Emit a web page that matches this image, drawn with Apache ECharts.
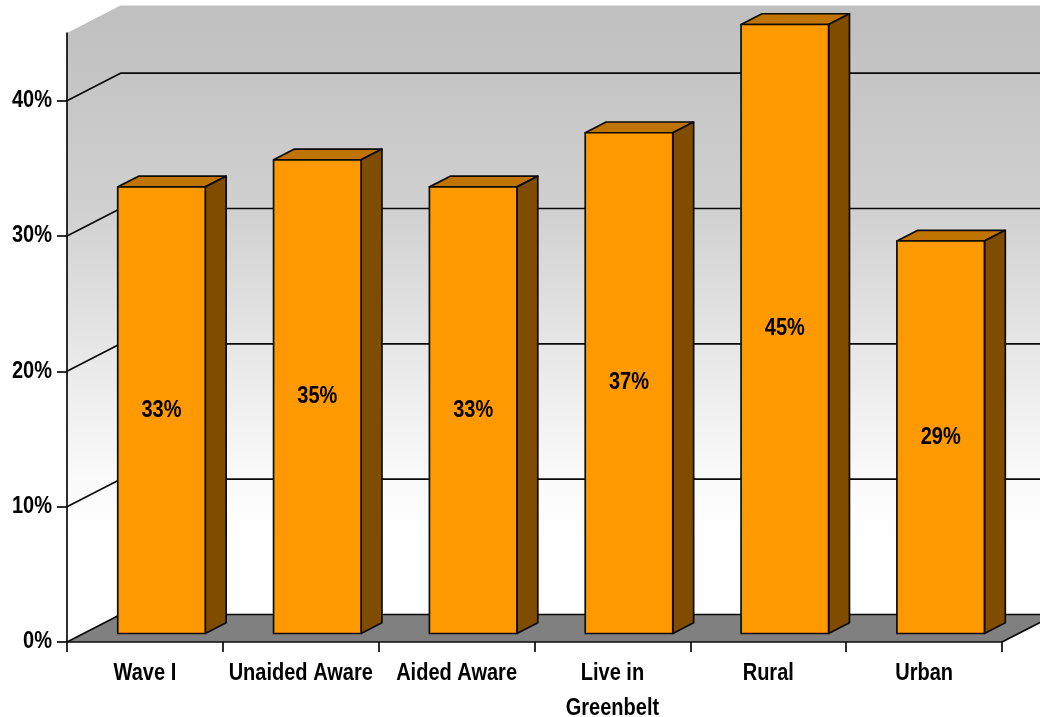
<!DOCTYPE html>
<html>
<head>
<meta charset="utf-8">
<style>html,body{margin:0;padding:0;background:#fff}#chart{width:1040px;height:717px}</style>
<script src="https://cdn.jsdelivr.net/npm/echarts@6/dist/echarts.min.js"></script>
</head>
<body>
<div id="chart"></div>
<script>
// Share of respondents by group
const categories = ['Wave I', 'Unaided Aware', 'Aided Aware', 'Live in\nGreenbelt', 'Rural', 'Urban'];
const shares = [33, 35, 33, 37, 45, 29];
const gridValues = [10, 20, 30, 40];
const axisTicks = [0, 10, 20, 30, 40];
const axisMax = 45;

const FONT = 'bold 23px "Liberation Sans", Arial, sans-serif';
const TEXT_SQUEEZE = 0.87;   // the labels are set condensed
const INK = '#0a0a0a';
const RULE = 1.7;

// Oblique projection of the box: how far the back wall sits from the front plane
const DEPTH_X = 53.5;
const DEPTH_Y = -27.5;
// Where a bar's front and back faces lie inside that depth
const BAR_FRONT = 0.31;
const BAR_BACK = 0.70;
const BAR_WIDTH = 0.5617;

const chart = echarts.init(document.getElementById('chart'), null, { renderer: 'canvas' });

function poly(points, fill, lineWidth) {
  return {
    type: 'polygon',
    shape: { points },
    style: { fill, stroke: lineWidth ? INK : null, lineWidth: lineWidth || 0, lineJoin: 'round' }
  };
}
function polyline(points) {
  return {
    type: 'polyline',
    shape: { points },
    style: { fill: null, stroke: INK, lineWidth: RULE, lineJoin: 'round' }
  };
}
function label(text, x, y, align) {
  return {
    type: 'text',
    x,
    y,
    scaleX: TEXT_SQUEEZE,
    style: { text, x: 0, y: 0, align, verticalAlign: 'middle', font: FONT, fill: '#000' }
  };
}

// Walls, floor and the gridlines that wrap from the side wall onto the back wall
function renderRoom(params, api) {
  const cs = params.coordSys;
  const left = cs.x, right = cs.x + cs.width, top = cs.y, bottom = cs.y + cs.height;
  const backLeft = left + DEPTH_X, backRight = right + DEPTH_X;
  const wallFill = new echarts.graphic.LinearGradient(0, top + DEPTH_Y, 0, bottom + DEPTH_Y, [
    { offset: 0, color: '#bfbfbf' },
    { offset: 0.332, color: '#d0d0d0' },
    { offset: 0.554, color: '#e6e6e6' },
    { offset: 0.776, color: '#fafafa' },
    { offset: 0.878, color: '#ffffff' },
    { offset: 1, color: '#ffffff' }
  ], true);
  const children = [
    poly([
      [left, top], [backLeft, top + DEPTH_Y], [backRight, top + DEPTH_Y],
      [backRight, bottom + DEPTH_Y], [backLeft, bottom + DEPTH_Y], [left, bottom]
    ], wallFill),
    poly([[left, bottom], [backLeft, bottom + DEPTH_Y], [backRight, bottom + DEPTH_Y], [right, bottom]], '#808080'),
    polyline([[left, bottom], [backLeft, bottom + DEPTH_Y], [backRight, bottom + DEPTH_Y], [right, bottom]])
  ];
  gridValues.forEach(function (v) {
    const y = api.coord([0, v])[1];
    children.push(polyline([[left, y], [backLeft, y + DEPTH_Y], [backRight, y + DEPTH_Y]]));
  });
  return { type: 'group', children };
}

// One box per category: top, side and front faces, with the value on the front
function renderBar(params, api) {
  const idx = api.value(0), value = api.value(1);
  const base = api.coord([idx, 0]);
  const head = api.coord([idx, value]);
  const w = api.size([1, 0])[0] * BAR_WIDTH;
  const fx = base[0] - w / 2 + DEPTH_X * BAR_FRONT;
  const fy = DEPTH_Y * BAR_FRONT;
  const dx = DEPTH_X * (BAR_BACK - BAR_FRONT);
  const dy = DEPTH_Y * (BAR_BACK - BAR_FRONT);
  const yTop = head[1] + fy, yBase = base[1] + fy;
  return {
    type: 'group',
    children: [
      poly([[fx, yTop], [fx + w, yTop], [fx + w + dx, yTop + dy], [fx + dx, yTop + dy]], '#bf7300', RULE),
      poly([[fx + w, yTop], [fx + w + dx, yTop + dy], [fx + w + dx, yBase + dy], [fx + w, yBase]], '#7f4c00', RULE),
      poly([[fx, yTop], [fx + w, yTop], [fx + w, yBase], [fx, yBase]], '#ff9900', RULE),
      label(value + '%', fx + w / 2, (yTop + yBase) / 2, 'center')
    ]
  };
}

// Axis labels, condensed like the rest of the chart's text
function renderAxisText(params, api) {
  const cs = params.coordSys;
  const bottom = cs.y + cs.height;
  const children = [];
  axisTicks.forEach(function (v) {
    children.push(label(v + '%', cs.x - 15, api.coord([0, v])[1], 'right'));
  });
  categories.forEach(function (name, i) {
    const x = api.coord([i, 0])[0];
    name.split('\n').forEach(function (line, row) {
      children.push(label(line, x, bottom + 32 + row * 35, 'center'));
    });
  });
  return { type: 'group', children };
}

chart.setOption({
  animation: false,
  backgroundColor: '#ffffff',
  grid: { left: 67, right: 38, top: 33, bottom: 75, outerBoundsMode: 'none' },
  xAxis: {
    type: 'category',
    data: categories,
    z: 5,
    axisLine: { show: true, lineStyle: { color: INK, width: RULE } },
    axisTick: { show: true, length: 10, lineStyle: { color: INK, width: RULE } },
    axisLabel: { show: false }
  },
  yAxis: {
    type: 'value',
    min: 0,
    max: axisMax,
    z: 5,
    splitLine: { show: false },
    axisLine: { show: true, lineStyle: { color: INK, width: RULE } },
    axisTick: { show: true, length: 10, customValues: axisTicks, lineStyle: { color: INK, width: RULE } },
    axisLabel: { show: false }
  },
  series: [
    {
      type: 'custom',
      z: 1,
      silent: true,
      clip: false,
      renderItem: renderRoom,
      data: [[0, 0]],
      encode: { x: 0, y: 1 }
    },
    {
      type: 'custom',
      z: 2,
      renderItem: renderBar,
      data: shares.map(function (v, i) { return [i, v]; }),
      encode: { x: 0, y: 1 }
    },
    {
      type: 'custom',
      z: 6,
      silent: true,
      clip: false,
      renderItem: renderAxisText,
      data: [[0, 0]],
      encode: { x: 0, y: 1 }
    }
  ]
});
</script>
</body>
</html>
